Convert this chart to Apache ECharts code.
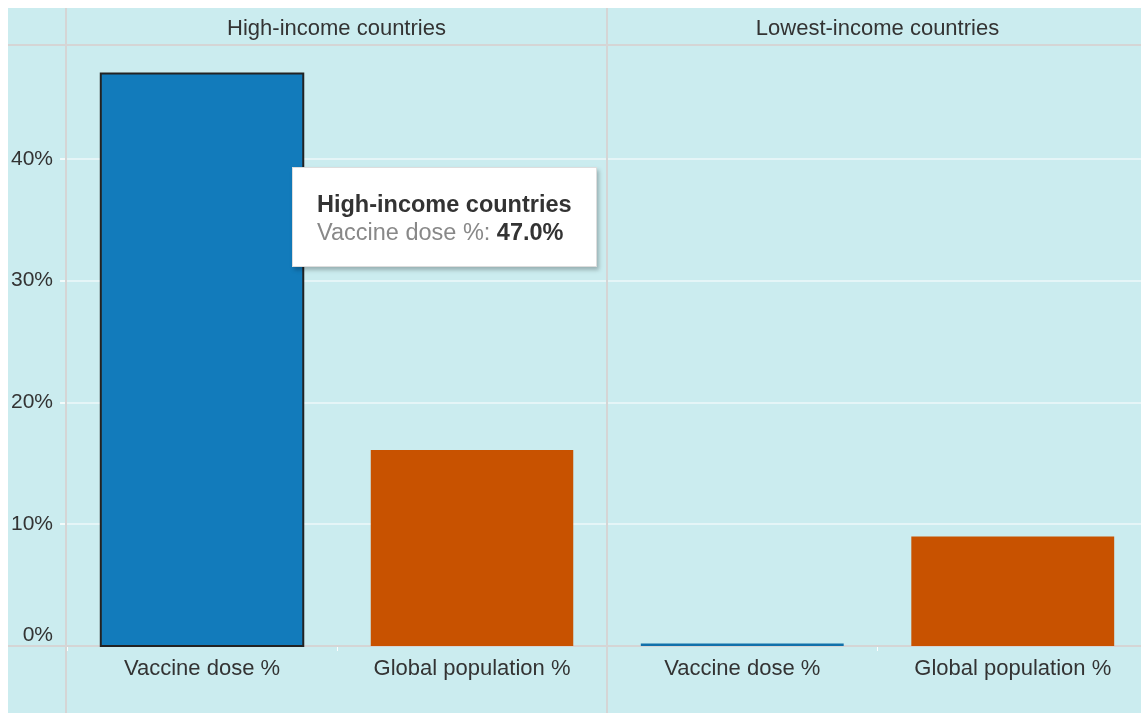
<!DOCTYPE html>
<html>
<head>
<meta charset="utf-8">
<script src="https://cdn.jsdelivr.net/npm/echarts@6/dist/echarts.min.js"></script>
<style>
  html, body { margin: 0; padding: 0; background: #fff; overflow: hidden; }
  #main { position: absolute; left: 8px; top: 8px; width: 1150px; height: 705px; }
</style>
</head>
<body>
<div id="main"></div>
<script>
// facets, categories and values
var groups = ['High-income countries', 'Lowest-income countries'];
var measures = ['Vaccine dose %', 'Global population %'];
var highIncome = [47.0, 16.1];
var lowestIncome = [0.2, 9.0];
var measureColors = ['#1170aa', '#c85200'];
var yMax = 49.35;   // 47 * 1.05
var yStep = 10;

var bg = '#cbecef';
var frame = '#d5d5d5';
var txt = '#333';
var font = 'Liberation Sans, Arial, sans-serif';

var chart = echarts.init(document.getElementById('main'));

var panelLeft = 58, panelW = 541, plotTop = 37, plotBottom = 67;

function makeData(vals) {
    return vals.map(function (v, i) {
        return { value: v, itemStyle: { color: measureColors[i] } };
    });
}

var grids = [], xAxes = [], yAxes = [], series = [], titles = [];
[highIncome, lowestIncome].forEach(function (vals, k) {
    var left = panelLeft + k * panelW;
    grids.push({ left: left, width: panelW, top: plotTop, bottom: plotBottom });
    titles.push({
        text: groups[k],
        left: left + panelW / 2,
        top: 10,
        padding: 0,
        textAlign: 'center',
        textStyle: { fontFamily: font, fontSize: 22, fontWeight: 'normal', color: txt }
    });
    xAxes.push({
        type: 'category',
        gridIndex: k,
        data: measures,
        axisLine: { show: false },
        axisTick: { show: true, length: 5, lineStyle: { color: '#fff', width: 1 } },
        axisLabel: { margin: 12, fontFamily: font, fontSize: 22, color: txt }
    });
    yAxes.push({
        type: 'value',
        gridIndex: k,
        min: 0,
        max: yMax,
        interval: yStep,
        axisLine: { show: false },
        axisTick: { show: k === 0, length: 7, lineStyle: { color: '#fff', width: 1.5 } },
        splitLine: { show: true, lineStyle: { color: '#eef9fa', width: 1.5 } },
        axisLabel: {
            show: k === 0,
            margin: 14,
            showMaxLabel: false,
            verticalAlignMinLabel: 'bottom',
            fontFamily: font,
            fontSize: 21,
            color: txt,
            formatter: '{value}%'
        }
    });
    series.push({
        type: 'bar',
        name: groups[k],
        xAxisIndex: k,
        yAxisIndex: k,
        barWidth: '75%',
        data: makeData(vals),
        emphasis: {
            focus: 'none',
            itemStyle: { borderColor: '#222', borderWidth: 2 }
        }
    });
});

var option = {
    backgroundColor: bg,
    animation: false,
    title: titles,
    grid: grids,
    xAxis: xAxes,
    yAxis: yAxes,
    series: series,
    tooltip: {
        trigger: 'item',
        alwaysShowContent: true,
        transitionDuration: 0,
        backgroundColor: '#fff',
        borderColor: '#ddd',
        borderWidth: 1,
        padding: [22, 24, 20, 24],
        extraCssText: 'box-shadow: 2px 3px 4px rgba(0,0,0,0.25); border-radius: 0;',
        position: function () { return [284, 159]; },
        formatter: function (p) {
            return '<div style="font-family:' + font + ';line-height:28px;font-size:23.5px;">' +
                '<div style="font-weight:bold;color:#333;">' + p.seriesName + '</div>' +
                '<span style="color:#888;">' + p.name + ':</span> ' +
                '<b style="color:#333;">' + p.value.toFixed(1) + '%</b></div>';
        }
    },
    graphic: [
        { type: 'line', z: 1, shape: { x1: 0, y1: plotTop, x2: 1150, y2: plotTop }, style: { stroke: frame, lineWidth: 2 } },
        { type: 'line', z: 1, shape: { x1: 0, y1: 638, x2: 1150, y2: 638 }, style: { stroke: frame, lineWidth: 2 } },
        { type: 'line', z: 1, shape: { x1: panelLeft, y1: 0, x2: panelLeft, y2: 705 }, style: { stroke: frame, lineWidth: 2 } },
        { type: 'line', z: 1, shape: { x1: panelLeft + panelW, y1: 0, x2: panelLeft + panelW, y2: 705 }, style: { stroke: frame, lineWidth: 2 } }
    ]
};
chart.setOption(option);

chart.dispatchAction({ type: 'highlight', seriesIndex: 0, dataIndex: 0 });
chart.dispatchAction({ type: 'showTip', seriesIndex: 0, dataIndex: 0 });
</script>
</body>
</html>
